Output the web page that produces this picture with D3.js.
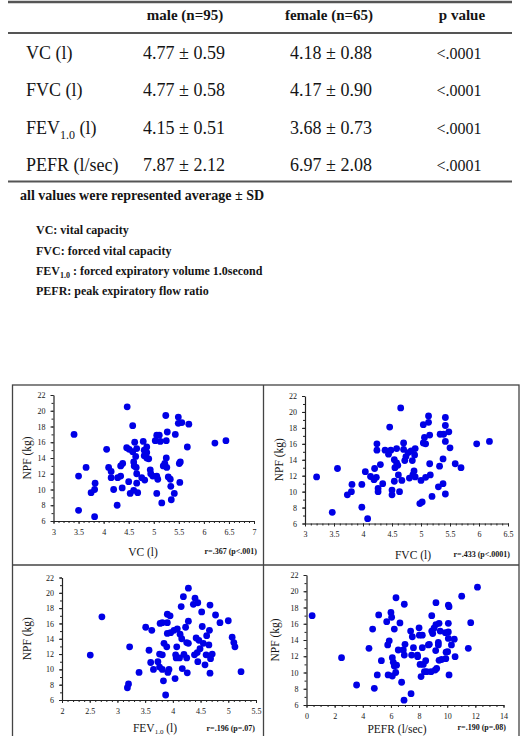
<!DOCTYPE html>
<html>
<head>
<meta charset="utf-8">
<script src="https://cdn.jsdelivr.net/npm/d3@7"></script>
<style>
  body { margin: 0; background: #fff; }
  svg { display: block; font-family: "Liberation Serif", "DejaVu Serif", serif; }
</style>
</head>
<body>
<svg width="530" height="736"></svg>
<script>
// ---- table data ----
const rowLabels = ["VC (l)", "FVC (l)", "FEV1.0 (l)", "PEFR (l/sec)"];
const maleValues = ["4.77 ± 0.59", "4.77 ± 0.58", "4.15 ± 0.51", "7.87 ± 2.12"];
const femaleValues = ["4.18 ± 0.88", "4.17 ± 0.90", "3.68 ± 0.73", "6.97 ± 2.08"];
const pValues = ["<.0001", "<.0001", "<.0001", "<.0001"];
const headers = ["male (n=95)", "female (n=65)", "p value"];
const footnote = "all values were represented average ± SD";
const definitions = [
  ["VC", ": vital capacity"],
  ["FVC", ": forced vital capacity"],
  ["FEV1.0", " : forced expiratory volume 1.0second"],
  ["PEFR", ": peak expiratory flow ratio"]
];

// ---- scatter data (NPF kg vs lung function) ----
const vcX = [3.41, 3.5, 3.5, 3.65, 3.75, 3.82, 3.83, 3.82, 4.06, 4.1, 4.15, 4.15, 4.2, 4.28, 4.27, 4.34, 4.34, 4.38, 4.37, 4.46, 4.47, 4.5, 4.53, 4.51, 4.58, 4.58, 4.6, 4.61, 4.6, 4.62, 4.64, 4.65, 4.66, 4.66, 4.66, 4.68, 4.76, 4.79, 4.81, 4.81, 4.82, 4.86, 4.86, 4.86, 4.9, 4.93, 4.94, 4.98, 5.03, 5.06, 5.06, 5.06, 5.08, 5.11, 5.13, 5.16, 5.19, 5.22, 5.24, 5.25, 5.25, 5.26, 5.27, 5.29, 5.33, 5.34, 5.35, 5.41, 5.43, 5.49, 5.49, 5.51, 5.52, 5.56, 5.67, 5.7, 6.22, 6.44, 5.53];
const vcY = [17.0, 11.7, 7.35, 12.8, 9.6, 10.0, 10.8, 6.55, 15.1, 12.8, 12.3, 11.5, 10.0, 11.5, 8.0, 11.7, 13.0, 13.3, 10.2, 15.3, 20.5, 11.0, 9.5, 15.1, 14.8, 18.1, 9.9, 13.0, 13.5, 16.0, 14.2, 12.8, 15.2, 12.0, 10.8, 9.6, 11.5, 16.1, 15.0, 14.3, 11.2, 15.4, 14.7, 14.0, 13.9, 12.5, 12.0, 11.7, 16.2, 16.9, 11.7, 9.5, 11.3, 16.9, 16.1, 8.3, 13.0, 13.3, 19.4, 16.2, 14.0, 12.8, 17.3, 11.6, 11.3, 10.4, 8.7, 9.5, 17.0, 19.2, 18.4, 13.3, 10.9, 18.5, 15.4, 18.3, 15.9, 16.2, 13.5];

const fvcX = [3.2, 3.47, 3.56, 3.73, 3.8, 3.81, 3.98, 3.98, 4.08, 4.04, 4.13, 4.19, 4.2, 4.23, 4.24, 4.24, 4.26, 4.26, 4.3, 4.34, 4.38, 4.44, 4.46, 4.48, 4.5, 4.5, 4.54, 4.54, 4.55, 4.58, 4.58, 4.6, 4.61, 4.63, 4.65, 4.67, 4.7, 4.7, 4.72, 4.74, 4.78, 4.8, 4.83, 4.85, 4.86, 4.88, 4.89, 4.9, 4.9, 4.98, 5.0, 5.02, 5.04, 5.04, 5.06, 5.08, 5.08, 5.13, 5.13, 5.15, 5.15, 5.16, 5.19, 5.3, 5.32, 5.33, 5.38, 5.38, 5.39, 5.42, 5.42, 5.42, 5.42, 5.48, 5.5, 5.59, 5.69, 5.96, 6.18];
const fvcY = [11.85, 7.4, 12.9, 9.6, 10.0, 10.9, 8.05, 10.9, 6.6, 12.5, 11.9, 11.5, 12.9, 11.8, 16.0, 15.2, 10.4, 10.0, 13.4, 11.0, 15.2, 14.7, 18.1, 15.2, 10.2, 9.6, 14.0, 11.3, 13.0, 15.4, 13.6, 13.3, 12.1, 10.0, 20.5, 11.4, 16.1, 15.3, 13.9, 14.4, 14.9, 11.7, 15.1, 13.9, 12.1, 12.6, 14.6, 15.4, 11.85, 8.5, 11.4, 8.7, 18.4, 16.1, 16.8, 11.8, 16.0, 19.5, 18.7, 17.1, 13.5, 12.1, 9.4, 10.6, 13.2, 17.2, 11.0, 14.1, 17.2, 19.3, 18.3, 16.3, 9.7, 17.5, 15.5, 13.5, 13.0, 16.0, 16.3];

const fevX = [2.51, 2.72, 3.18, 3.2, 3.22, 3.39, 3.51, 3.57, 3.6, 3.62, 3.65, 3.73, 3.76, 3.76, 3.77, 3.81, 3.81, 3.81, 3.83, 3.84, 3.87, 3.89, 3.9, 3.9, 3.9, 3.91, 3.93, 3.95, 3.96, 4.02, 4.04, 4.05, 4.06, 4.07, 4.08, 4.12, 4.13, 4.15, 4.16, 4.17, 4.19, 4.2, 4.23, 4.25, 4.25, 4.26, 4.28, 4.28, 4.28, 4.37, 4.39, 4.4, 4.42, 4.44, 4.45, 4.45, 4.47, 4.49, 4.52, 4.53, 4.55, 4.58, 4.6, 4.61, 4.65, 4.66, 4.67, 4.67, 4.68, 4.71, 4.77, 4.85, 5.0, 5.07, 5.1, 5.12, 5.23];
const fevY = [11.87, 16.87, 7.6, 8.1, 12.95, 9.6, 15.5, 12.5, 10.9, 15.1, 10.0, 11.0, 10.3, 12.0, 16.0, 16.1, 11.9, 10.0, 8.5, 13.4, 6.65, 12.95, 17.2, 16.1, 14.7, 9.6, 10.0, 17.0, 14.8, 15.1, 8.8, 11.9, 11.5, 12.95, 15.3, 11.5, 14.6, 18.2, 14.0, 10.1, 19.5, 11.95, 15.5, 13.5, 11.5, 9.55, 16.3, 20.6, 13.4, 18.5, 11.9, 19.3, 14.1, 12.2, 11.0, 18.7, 13.8, 12.7, 17.5, 15.6, 13.4, 10.6, 11.9, 14.4, 13.2, 15.1, 9.5, 18.4, 11.4, 12.0, 17.1, 16.1, 16.35, 14.2, 13.5, 12.95, 9.7];

const pefrX = [0.4, 2.49, 3.56, 4.44, 4.7, 4.82, 5.03, 5.13, 5.32, 5.7, 5.77, 5.8, 5.88, 6.0, 6.05, 6.1, 6.1, 6.17, 6.24, 6.24, 6.36, 6.34, 6.4, 6.52, 6.64, 6.76, 6.88, 6.95, 6.93, 7.0, 6.95, 7.4, 7.43, 7.47, 7.52, 7.6, 7.88, 7.9, 8.0, 8.02, 8.07, 8.14, 8.23, 8.23, 8.3, 8.38, 8.47, 8.54, 8.66, 8.73, 8.85, 8.9, 8.9, 8.97, 9.06, 9.14, 9.18, 9.2, 9.2, 9.25, 9.37, 9.37, 9.42, 9.42, 9.5, 9.6, 9.87, 9.9, 9.92, 10.08, 10.08, 10.08, 10.13, 10.08, 10.13, 10.03, 10.3, 10.5, 10.56, 11.03, 11.5, 11.67, 12.15];
const pefrY = [17.0, 11.83, 8.46, 12.97, 15.35, 8.05, 9.7, 17.08, 11.46, 16.26, 13.4, 9.7, 13.9, 17.4, 16.8, 11.83, 9.57, 11.25, 10.8, 15.35, 19.2, 10.0, 10.9, 12.77, 16.1, 8.8, 12.77, 18.4, 6.6, 13.47, 12.15, 15.1, 7.4, 12.15, 14.4, 13.05, 12.15, 11.95, 15.5, 14.6, 11.0, 9.5, 14.6, 13.05, 11.0, 10.1, 11.46, 10.1, 13.4, 13.47, 10.1, 17.0, 15.1, 14.8, 15.45, 10.3, 12.7, 18.6, 15.9, 10.5, 13.7, 13.4, 11.5, 16.05, 15.1, 11.6, 14.9, 11.7, 12.5, 14.2, 15.0, 18.3, 18.1, 16.05, 9.7, 12.56, 13.4, 14.1, 11.95, 19.4, 12.97, 16.13, 20.5];

const yTicks = [6, 8, 10, 12, 14, 16, 18, 20, 22];
const vcTicks = [3, 3.5, 4, 4.5, 5, 5.5, 6, 6.5, 7];
const fvcTicks = [3, 3.5, 4, 4.5, 5, 5.5, 6, 6.5];
const fevTicks = [2, 2.5, 3, 3.5, 4, 4.5, 5, 5.5];
const pefrTicks = [0, 2, 4, 6, 8, 10, 12, 14];

const svg = d3.select("svg");
svg.append("rect").attr("width", 530).attr("height", 736).attr("fill", "#fff");

const ink = "#151515";

// ---- table ----
const table = svg.append("g").attr("fill", ink);
[2, 33, 181.5].forEach((y, i) => {
  svg.append("line")
    .attr("x1", 8).attr("x2", 512).attr("y1", y).attr("y2", y)
    .attr("stroke", "#555").attr("stroke-width", i === 0 ? 2.5 : 2);
});

const headerX = [185, 329, 462];
table.selectAll("text.head")
  .data(headers)
  .join("text")
  .attr("class", "head")
  .attr("x", (d, i) => headerX[i])
  .attr("y", 20)
  .attr("text-anchor", "middle")
  .attr("font-size", 15)
  .attr("font-weight", "bold")
  .text(d => d);

const rowY = [59, 96, 133.5, 170.5];
rowLabels.forEach((label, i) => {
  const t = table.append("text")
    .attr("x", 26).attr("y", rowY[i])
    .attr("font-size", 18);
  if (label.startsWith("FEV1.0")) {
    t.append("tspan").text("FEV");
    t.append("tspan").attr("font-size", 12).attr("dy", 5).text("1.0");
    t.append("tspan").attr("dy", -5).text(" (l)");
  } else {
    t.text(label);
  }
  table.append("text")
    .attr("x", 184).attr("y", rowY[i])
    .attr("text-anchor", "middle").attr("font-size", 18)
    .text(maleValues[i]);
  table.append("text")
    .attr("x", 331).attr("y", rowY[i])
    .attr("text-anchor", "middle").attr("font-size", 18)
    .text(femaleValues[i]);
  table.append("text")
    .attr("x", 459).attr("y", rowY[i])
    .attr("text-anchor", "middle").attr("font-size", 16)
    .text(pValues[i]);
});

table.append("text")
  .attr("x", 20).attr("y", 200)
  .attr("font-size", 14).attr("font-weight", "bold")
  .text(footnote);

const defY = [234, 255, 275, 295];
definitions.forEach((d, i) => {
  const t = table.append("text")
    .attr("x", 36).attr("y", defY[i])
    .attr("font-size", 12).attr("font-weight", "bold");
  if (d[0] === "FEV1.0") {
    t.append("tspan").text("FEV");
    t.append("tspan").attr("font-size", 8).attr("dy", 3).text("1.0");
    t.append("tspan").attr("dy", -3).text(d[1]);
  } else {
    t.text(d[0] + d[1]);
  }
});

// ---- scatter panels ----
svg.append("rect")
  .attr("x", 12.5).attr("y", 385).attr("width", 506.5).attr("height", 360)
  .attr("fill", "none").attr("stroke", "#444").attr("stroke-width", 1.3);
svg.append("line")
  .attr("x1", 263.5).attr("x2", 263.5).attr("y1", 385).attr("y2", 745)
  .attr("stroke", "#444").attr("stroke-width", 1.3);
svg.append("line")
  .attr("x1", 12.5).attr("x2", 519).attr("y1", 565).attr("y2", 565)
  .attr("stroke", "#444").attr("stroke-width", 1.3);

const panels = [
  { xs: vcX, ys: vcY, domain: [3, 7], xr: [53.5, 254], yr: [521, 395], ticks: vcTicks, minor: 0.1,
    yLabelX: 27, title: "VC (l)", titleX: 143, titleY: 556, r: "r=.367 (p<.001)", rX: 257, rY: 554 },
  { xs: fvcX, ys: fvcY, domain: [3, 6.5], xr: [305, 508], yr: [523.5, 396], ticks: fvcTicks, minor: 0.1,
    yLabelX: 279, title: "FVC (l)", titleX: 413, titleY: 559, r: "r=.433 (p<.0001)", rX: 510, rY: 557 },
  { xs: fevX, ys: fevY, domain: [2, 5.5], xr: [62, 256], yr: [700, 577.5], ticks: fevTicks, minor: 0.1,
    yLabelX: 27, title: "FEV", sub: "1.0", titleX: 155, titleY: 732, r: "r=.196 (p=.07)", rX: 255, rY: 731 },
  { xs: pefrX, ys: pefrY, domain: [0, 14], xr: [306.5, 503.5], yr: [705, 575], ticks: pefrTicks, minor: 0.5,
    yLabelX: 275, title: "PEFR (l/sec)", titleX: 397, titleY: 733, r: "r=.190 (p=.08)", rX: 506, rY: 730 }
];

panels.forEach(p => {
  const x = d3.scaleLinear().domain(p.domain).range(p.xr);
  const y = d3.scaleLinear().domain([6, 22]).range(p.yr);
  const g = svg.append("g");

  const minorX = d3.range(p.domain[0], p.domain[1] + 1e-9, p.minor);
  g.append("g")
    .attr("transform", `translate(0,${p.yr[0]})`)
    .call(d3.axisBottom(x).tickValues(minorX).tickSize(2).tickFormat(""))
    .call(a => a.select(".domain").remove());
  g.append("g")
    .attr("transform", `translate(${p.xr[0]},0)`)
    .call(d3.axisLeft(y).tickValues(d3.range(6, 22.5, 1)).tickSize(2).tickFormat(""))
    .call(a => a.select(".domain").remove());

  const xa = g.append("g")
    .attr("transform", `translate(0,${p.yr[0]})`)
    .call(d3.axisBottom(x).tickValues(p.ticks).tickSize(3).tickSizeOuter(0).tickPadding(5)
      .tickFormat(d3.format("")));
  const ya = g.append("g")
    .attr("transform", `translate(${p.xr[0]},0)`)
    .call(d3.axisLeft(y).tickValues(yTicks).tickSize(3).tickSizeOuter(0).tickPadding(5));
  [xa, ya].forEach(a => {
    a.selectAll("text").attr("font-family", "Liberation Serif, serif").attr("font-size", 8).attr("fill", ink);
    a.select(".domain").attr("stroke", "#222").attr("stroke-width", 1.2);
  });
  g.selectAll(".tick line").attr("stroke", "#222");

  g.append("g")
    .selectAll("circle")
    .data(p.xs.map((v, i) => [v, p.ys[i]]))
    .join("circle")
    .attr("cx", d => x(d[0]))
    .attr("cy", d => y(d[1]))
    .attr("r", 3.4)
    .attr("fill", "#0000e6");

  const yMid = (p.yr[0] + p.yr[1]) / 2;
  g.append("text")
    .attr("transform", `translate(${p.yLabelX},${yMid}) rotate(-90)`)
    .attr("text-anchor", "middle")
    .attr("dy", "0.35em")
    .attr("font-size", 11.5)
    .attr("fill", ink)
    .text("NPF (kg)");

  const t = g.append("text")
    .attr("x", p.titleX).attr("y", p.titleY)
    .attr("text-anchor", "middle")
    .attr("font-size", 11.5)
    .attr("fill", ink);
  if (p.sub) {
    t.append("tspan").text(p.title);
    t.append("tspan").attr("font-size", 7).attr("dy", 2).text(p.sub);
    t.append("tspan").attr("dy", -2).text(" (l)");
  } else {
    t.text(p.title);
  }

  g.append("text")
    .attr("x", p.rX).attr("y", p.rY)
    .attr("text-anchor", "end")
    .attr("font-size", 8)
    .attr("font-weight", "bold")
    .attr("fill", ink)
    .text(p.r);
});
</script>
</body>
</html>
